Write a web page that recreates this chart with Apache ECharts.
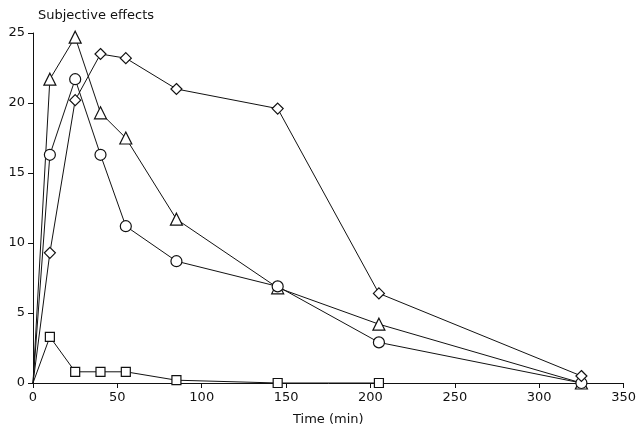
<!DOCTYPE html>
<html>
<head>
<meta charset="utf-8">
<script src="https://cdn.jsdelivr.net/npm/echarts@6/dist/echarts.min.js"></script>
</head>
<body style="margin:0;background:#fff">
<div id="main" style="width:639px;height:432px;"></div>
<script>
var times = [0, 10, 25, 40, 55, 85, 145, 205, 325];
var triangle = [0, 21.7, 24.7, 19.3, 17.5, 11.7, 6.8, 4.2, 0];
var circle = [0, 16.3, 21.7, 16.3, 11.2, 8.7, 6.9, 2.9, 0];
var diamond = [0, 9.3, 20.2, 23.5, 23.2, 21.0, 19.6, 6.4, 0.5];
var square = [0, 3.3, 0.8, 0.8, 0.8, 0.2, 0, 0, null];

function pairs(vals) {
  var out = [];
  times.forEach(function (t, i) {
    if (vals[i] === null) return;
    out.push(i === 0 ? { value: [t, vals[i]], symbol: 'none' } : [t, vals[i]]);
  });
  return out;
}
function mk(name, vals, symbol, size) {
  return {
    name: name, type: 'line', data: pairs(vals), symbol: symbol, symbolSize: size,
    showSymbol: true,
    lineStyle: { color: '#111', width: 1 },
    itemStyle: { color: '#fff', borderColor: '#111', borderWidth: 1.2 }
  };
}
var chart = echarts.init(document.getElementById('main'));
chart.setOption({
  animation: false,
  title: { text: 'Subjective effects', left: 33, top: 4, textStyle: { fontFamily: 'DejaVu Sans', fontSize: 13, fontWeight: 'normal', color: '#111' } },
  grid: { left: 33, right: 15, top: 33, bottom: 49 },
  xAxis: {
    type: 'value', min: 0, max: 350, interval: 50,
    name: 'Time (min)', nameLocation: 'middle', nameGap: 30,
    nameTextStyle: { fontFamily: 'DejaVu Sans', fontSize: 13, color: '#111' },
    axisLine: { lineStyle: { color: '#111' } },
    axisTick: { inside: false, lineStyle: { color: '#111' } },
    axisLabel: { fontFamily: 'DejaVu Sans', fontSize: 13, color: '#111' },
    splitLine: { show: false }
  },
  yAxis: {
    type: 'value', min: 0, max: 25, interval: 5,
    axisLine: { show: true, lineStyle: { color: '#111' } },
    axisTick: { show: true, lineStyle: { color: '#111' } },
    axisLabel: { fontFamily: 'DejaVu Sans', fontSize: 13, color: '#111' },
    splitLine: { show: false }
  },
  series: [
    mk('triangle', triangle, 'triangle', 12),
    mk('circle', circle, 'circle', 11),
    mk('diamond', diamond, 'diamond', 11),
    mk('square', square, 'rect', 9)
  ]
});
</script>
</body>
</html>
